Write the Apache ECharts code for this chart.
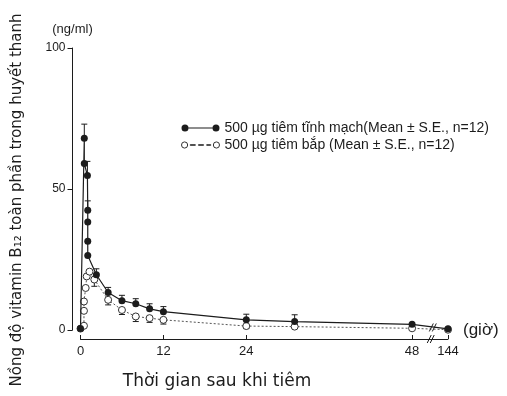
<!DOCTYPE html>
<html><head><meta charset="utf-8">
<script src="https://cdn.jsdelivr.net/npm/echarts@6/dist/echarts.min.js"></script>
<style>html,body{margin:0;padding:0;background:#fff}#c{width:507px;height:396px}</style>
</head><body><div id="c"></div>
<script>
// ---- data (time in hours, concentration ng/ml) ----
const IV_NAME = '500 µg tiêm tĩnh mạch(Mean ± S.E., n=12)';
const IM_NAME = '500 µg tiêm bắp (Mean ± S.E., n=12)';
const ivTime = [0, 0.55, 0.55, 1.0, 1.05, 1.05, 1.05, 1.05, 2.3, 4, 6, 8, 10, 12, 24, 31, 48, 144];
const ivConc = [0.5, 68, 59, 54.8, 42.5, 38.3, 31.5, 26.4, 19.6, 13.3, 10.4, 9.3, 7.5, 6.5, 3.6, 3.0, 2.0, 0.4];
const ivUpper = [null, 73, null, 59.8, 45.8, null, null, null, 21.7, 15.1, 12.3, 11.1, 9.3, 8.3, 5.6, 5.4, null, null];
const imTime = [0, 0.5, 0.5, 0.5, 0.75, 0.9, 1.3, 2, 4, 6, 8, 10, 12, 24, 31, 48, 144];
const imConc = [0.5, 1.5, 6.8, 10.1, 14.9, 19.0, 20.7, 17.9, 10.7, 7.1, 4.8, 4.2, 3.6, 1.4, 1.2, 0.6, 0.1];
const imLower = [null, null, null, null, null, null, null, 15.5, 8.9, 5.5, 3.0, 2.7, 2.1, 0.5, null, null, null];
const xTicks = [0, 12, 24, 48, 144];
const yTicks = [0, 50, 100];

// broken time axis: 0..48 h linear, then a break, 144 h placed just after
const BREAK_POS = 53.2;
const tx = t => (t <= 48 ? t : BREAK_POS);
const xTickPos = xTicks.map(tx);

const ivData = ivTime.map((t, i) => [tx(t), ivConc[i]]);
const imData = imTime.map((t, i) => [tx(t), imConc[i]]);
const errData = [];
ivTime.forEach((t, i) => { if (ivUpper[i] != null) errData.push([tx(t), ivConc[i], ivUpper[i]]); });
imTime.forEach((t, i) => { if (imLower[i] != null) errData.push([tx(t), imConc[i], imLower[i]]); });

const FONT = 'Liberation Sans, Arial, sans-serif';
const WIDE = 'DejaVu Sans, sans-serif';
const INK = '#1c1c1c';
const X_OFFSET = 9, Y_OFFSET = 8;

const filledIcon = 'path://M0,3.5A3.5,3.5,0,1,1,7,3.5A3.5,3.5,0,1,1,0,3.5ZM7,3H31V4H7ZM31,3.5A3.5,3.5,0,1,1,38,3.5A3.5,3.5,0,1,1,31,3.5Z';
const openIcon = 'path://M0.5,3.5A3,3,0,1,1,6.5,3.5A3,3,0,1,1,0.5,3.5ZM9,3.2H14V3.8H9ZM17,3.2H22V3.8H17ZM25,3.2H29V3.8H25ZM31.5,3.5A3,3,0,1,1,37.5,3.5A3,3,0,1,1,31.5,3.5Z';

const chart = echarts.init(document.getElementById('c'), null, {renderer: 'canvas'});
chart.setOption({
  animation: false,
  backgroundColor: '#fff',
  textStyle: {fontFamily: FONT},
  grid: {left: 80.5, right: 59, top: 48, bottom: 66, containLabel: false},
  legend: {
    orient: 'vertical', left: 176, top: 116, itemWidth: 38, itemHeight: 7, itemGap: 3,
    textStyle: {fontSize: 14, color: INK, fontFamily: FONT},
    data: [
      {name: IV_NAME, icon: filledIcon, itemStyle: {color: INK, borderWidth: 0}},
      {name: IM_NAME, icon: openIcon, itemStyle: {color: '#fff', borderColor: '#333', borderWidth: 1}}
    ]
  },
  xAxis: {
    type: 'value', min: 0, max: BREAK_POS, offset: X_OFFSET,
    axisLine: {onZero: false, lineStyle: {color: INK, width: 1}},
    axisTick: {inside: true, length: 4, lineStyle: {color: INK}, customValues: xTickPos},
    axisLabel: {customValues: xTickPos, color: INK, fontSize: 13, margin: 6,
      formatter: v => (v > 48 ? '144' : String(v))},
    splitLine: {show: false}
  },
  yAxis: {
    type: 'value', min: 0, max: 100, interval: 50, offset: Y_OFFSET,
    axisLine: {show: true, onZero: false, lineStyle: {color: INK, width: 1}},
    axisTick: {show: true, length: 5, lineStyle: {color: INK}},
    axisLabel: {color: INK, fontSize: 12, margin: 7},
    splitLine: {show: false},
    name: '(ng/ml)', nameLocation: 'end', nameGap: 12,
    nameTextStyle: {fontSize: 13, color: INK, align: 'center'}
  },
  graphic: [
    {type: 'text', x: 17, y: 200, rotation: Math.PI / 2,
      style: {text: 'Nồng độ vitamin B₁₂ toàn phần trong huyết thanh', fill: INK,
        font: '15px ' + WIDE, textAlign: 'center', textVerticalAlign: 'middle'}},
    {type: 'text', x: 217, y: 382,
      style: {text: 'Thời gian sau khi tiêm', fill: INK, font: '17px ' + WIDE,
        textAlign: 'center', textVerticalAlign: 'middle'}},
    {type: 'text', x: 463, y: 330,
      style: {text: '(giờ)', fill: INK, font: '17px ' + FONT,
        textAlign: 'left', textVerticalAlign: 'middle'}}
  ],
  series: [
    {
      type: 'custom', name: 'errorbars', z: 1, silent: true,
      data: errData,
      renderItem: (params, api) => {
        const p1 = api.coord([api.value(0), api.value(1)]);
        const p2 = api.coord([api.value(0), api.value(2)]);
        return {type: 'group', children: [
          {type: 'line', shape: {x1: p1[0], y1: p1[1], x2: p2[0], y2: p2[1]}, style: {stroke: INK, lineWidth: 1}},
          {type: 'line', shape: {x1: p2[0] - 3, y1: p2[1], x2: p2[0] + 3, y2: p2[1]}, style: {stroke: INK, lineWidth: 1}}
        ]};
      }
    },
    {
      type: 'line', name: IM_NAME, data: imData, z: 3,
      symbol: 'circle', symbolSize: 7,
      lineStyle: {color: '#555', width: 1, type: [2, 2]},
      itemStyle: {color: '#fff', borderColor: '#333', borderWidth: 1}
    },
    {
      type: 'line', name: IV_NAME, data: ivData, z: 4,
      symbol: 'circle', symbolSize: 7,
      lineStyle: {color: INK, width: 1.2},
      itemStyle: {color: INK, borderWidth: 0}
    },
    {
      type: 'custom', name: 'breaks', z: 5, silent: true, clip: false,
      data: [[50.7, 0, 1], [51.0, 0.9, 0]],
      renderItem: (params, api) => {
        const p = api.coord([api.value(0), api.value(1)]);
        const y = p[1] + (api.value(2) ? X_OFFSET : 0);
        const kids = [];
        [-1.5, 1.5].forEach(d => kids.push({type: 'line',
          shape: {x1: p[0] + d - 2, y1: y + 4, x2: p[0] + d + 2, y2: y - 4},
          style: {stroke: INK, lineWidth: 1}}));
        return {type: 'group', children: kids};
      }
    }
  ]
});
</script>
</body></html>
